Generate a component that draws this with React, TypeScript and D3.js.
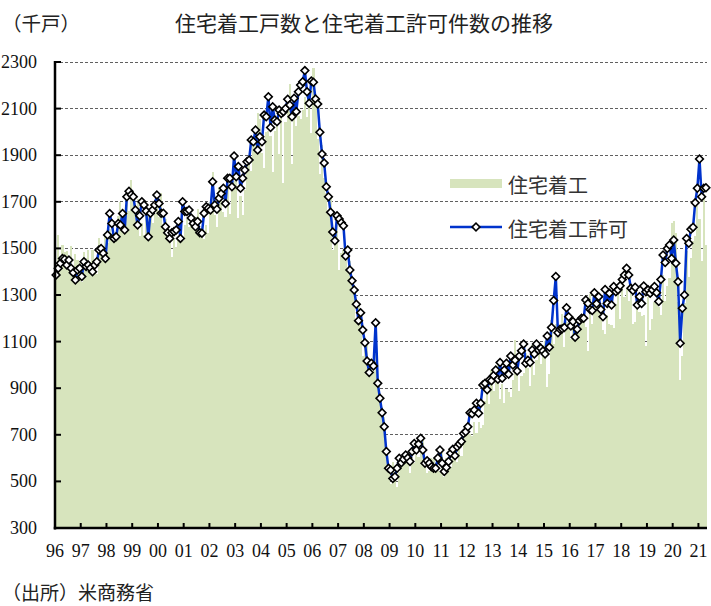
import React, { useEffect, useRef } from 'react';
import * as d3 from 'd3';

// 住宅着工戸数（千戸、年率）1996年1月〜2021年4月
const starts: number[] = [
  1370, 1556, 1432, 1513, 1484, 1488, 1461, 1512, 1422, 1474, 1452, 1436, // 1996
  1355, 1486, 1457, 1492, 1442, 1494, 1437, 1390, 1546, 1520, 1510, 1566, // 1997
  1525, 1584, 1567, 1540, 1536, 1641, 1698, 1614, 1582, 1715, 1660, 1792, // 1998
  1748, 1670, 1710, 1553, 1611, 1559, 1669, 1648, 1635, 1608, 1648, 1708, // 1999
  1636, 1737, 1604, 1626, 1575, 1559, 1463, 1541, 1507, 1549, 1551, 1532, // 2000
  1600, 1625, 1590, 1649, 1605, 1636, 1670, 1567, 1562, 1540, 1602, 1568, // 2001
  1698, 1829, 1642, 1592, 1764, 1717, 1655, 1633, 1804, 1648, 1753, 1788, // 2002
  1853, 1629, 1726, 1643, 1751, 1867, 1897, 1833, 1939, 1967, 2083, 2057, // 2003
  1911, 1846, 1998, 2003, 1981, 1828, 2002, 2024, 1905, 2072, 1782, 2042, // 2004
  2144, 2207, 1864, 2061, 2025, 2068, 2054, 2095, 2151, 2065, 2147, 1994, // 2005
  2273, 2119, 1969, 1821, 1942, 1802, 1737, 1650, 1720, 1491, 1570, 1649, // 2006
  1409, 1480, 1495, 1490, 1415, 1448, 1354, 1330, 1183, 1264, 1197, 1037, // 2007
  1084, 1103, 1005, 1013, 973, 1046, 923, 844, 820, 777, 652, 560,        // 2008
  490, 582, 505, 478, 540, 585, 594, 586, 585, 534, 588, 581,              // 2009
  614, 604, 636, 687, 583, 536, 546, 599, 594, 543, 545, 539,              // 2010
  630, 517, 600, 554, 561, 608, 623, 585, 650, 610, 711, 694,              // 2011
  723, 704, 695, 753, 708, 757, 728, 742, 847, 915, 833, 976,              // 2012
  888, 969, 1005, 852, 919, 835, 897, 883, 863, 936, 1105, 1003,           // 2013
  888, 952, 964, 1052, 985, 909, 1086, 956, 1023, 1074, 1004, 1086,        // 2014
  1104, 904, 963, 1191, 1090, 1174, 1146, 1124, 1219, 1077, 1183, 1158,    // 2015
  1113, 1200, 1103, 1160, 1136, 1188, 1202, 1162, 1061, 1305, 1174, 1283,  // 2016
  1230, 1283, 1194, 1150, 1133, 1216, 1175, 1170, 1160, 1263, 1303, 1199,  // 2017
  1336, 1290, 1327, 1276, 1329, 1177, 1184, 1280, 1229, 1209, 1214, 1081,  // 2018
  1291, 1149, 1199, 1270, 1264, 1250, 1216, 1386, 1274, 1338, 1371, 1608,  // 2019
  1617, 1567, 1269, 934, 1038, 1265, 1487, 1377, 1459, 1530, 1552, 1680,   // 2020
  1625, 1447, 1733, 1514,                                                  // 2021
];

// 住宅着工許可件数（千戸、年率）
const permits: number[] = [
  1386, 1415, 1436, 1457, 1453, 1429, 1450, 1415, 1396, 1364, 1407, 1415, // 1996
  1379, 1443, 1422, 1429, 1415, 1400, 1429, 1443, 1493, 1500, 1479, 1457, // 1997
  1558, 1650, 1607, 1543, 1550, 1607, 1600, 1650, 1579, 1722, 1745, 1730, // 1998
  1722, 1665, 1600, 1640, 1700, 1686, 1660, 1550, 1651, 1665, 1686, 1729, // 1999
  1693, 1651, 1651, 1593, 1567, 1543, 1567, 1572, 1579, 1615, 1543, 1700, // 2000
  1658, 1658, 1665, 1630, 1607, 1593, 1615, 1567, 1565, 1651, 1679, 1672, // 2001
  1665, 1786, 1686, 1668, 1715, 1736, 1758, 1693, 1801, 1801, 1765, 1897, // 2002
  1808, 1851, 1758, 1801, 1836, 1872, 1879, 1965, 1958, 2008, 1922, 1979, // 2003
  1958, 2072, 2065, 2151, 2019, 2108, 2051, 2044, 2094, 2079, 2087, 2100, // 2004
  2140, 2115, 2065, 2144, 2087, 2172, 2201, 2215, 2263, 2172, 2123, 2218, // 2005
  2213, 2141, 2120, 1998, 1905, 1867, 1765, 1722, 1655, 1570, 1533, 1640, // 2006
  1626, 1610, 1597, 1467, 1493, 1407, 1361, 1321, 1260, 1190, 1224, 1150, // 2007
  1095, 1017, 967, 1007, 995, 1181, 921, 857, 795, 735, 628, 556,         // 2008
  549, 512, 520, 556, 599, 580, 595, 613, 600, 585, 628, 663,              // 2009
  635, 660, 685, 635, 578, 589, 578, 563, 556, 556, 600, 635,              // 2010
  578, 542, 560, 585, 621, 638, 610, 649, 660, 671, 706, 713,              // 2011
  735, 795, 790, 806, 835, 792, 835, 914, 921, 893, 935, 932,              // 2012
  955, 978, 938, 1010, 943, 978, 1007, 960, 1038, 1000, 1020, 974,         // 2013
  1038, 1061, 1090, 1007, 1020, 1010, 1064, 1047, 1090, 1064, 1071, 1060,  // 2014
  1047, 1124, 1076, 1161, 1276, 1379, 1138, 1153, 1155, 1161, 1245, 1207,  // 2015
  1167, 1186, 1119, 1153, 1190, 1200, 1200, 1279, 1264, 1238, 1233, 1310,  // 2016
  1262, 1293, 1238, 1207, 1324, 1264, 1307, 1257, 1336, 1314, 1322, 1340,  // 2017
  1367, 1386, 1415, 1386, 1329, 1319, 1333, 1257, 1293, 1264, 1339, 1314,  // 2018
  1322, 1307, 1322, 1336, 1310, 1272, 1367, 1472, 1439, 1500, 1515, 1457,  // 2019
  1536, 1436, 1357, 1093, 1243, 1300, 1543, 1522, 1582, 1591, 1696, 1758,  // 2020
  1884, 1722, 1758, 1760,                                                  // 2021
];

const yearLabels = ['96', '97', '98', '99', '00', '01', '02', '03', '04', '05', '06', '07', '08',
  '09', '10', '11', '12', '13', '14', '15', '16', '17', '18', '19', '20', '21'];
const yTicks = [300, 500, 700, 900, 1100, 1300, 1500, 1700, 1900, 2100, 2300];
const startYear = 1996;

const months = starts.map((_, i) =>
  `${startYear + Math.floor(i / 12)}-${String((i % 12) + 1).padStart(2, '0')}`);

const W = 711;
const H = 606;
const plot = { left: 55, right: 707, top: 62, bottom: 528 };
const serif = '"Liberation Serif", "DejaVu Serif", serif';
const jp = '"Noto Sans CJK JP", sans-serif';

export default function App() {
  const ref = useRef<SVGSVGElement>(null);

  useEffect(() => {
    const svg = d3.select(ref.current);
    svg.selectAll('*').remove();

    const x = d3.scaleBand<string>().domain(months).range([plot.left, plot.right]).padding(0);
    const y = d3.scaleLinear().domain([300, 2300]).range([plot.bottom, plot.top]);
    const bw = x.bandwidth();

    // gridlines (behind bars)
    svg.append('g')
      .attr('shape-rendering', 'crispEdges')
      .selectAll('line')
      .data(yTicks.slice(1))
      .enter()
      .append('line')
      .attr('x1', plot.left)
      .attr('x2', plot.right)
      .attr('y1', d => y(d))
      .attr('y2', d => y(d))
      .attr('stroke', '#606060')
      .attr('stroke-width', 1)
      .attr('stroke-dasharray', '3,2');

    // housing starts bars
    svg.append('g')
      .attr('shape-rendering', 'crispEdges')
      .selectAll('rect')
      .data(starts)
      .enter()
      .append('rect')
      .attr('x', (d, i) => x(months[i]) as number)
      .attr('width', bw)
      .attr('y', d => y(d))
      .attr('height', d => y(300) - y(d))
      .attr('fill', '#d7e4bd');

    // permits line
    const line = d3.line<number>()
      .x((d, i) => (x(months[i]) as number) + bw / 2)
      .y(d => y(d));

    svg.append('path')
      .datum(permits)
      .attr('d', line)
      .attr('fill', 'none')
      .attr('stroke', '#0033cc')
      .attr('stroke-width', 2.5)
      .attr('stroke-linejoin', 'round');

    const diamond = d3.symbol().type(d3.symbolSquare).size(30);
    svg.append('g')
      .selectAll('path')
      .data(permits)
      .enter()
      .append('path')
      .attr('d', diamond())
      .attr('transform', (d, i) => `translate(${(x(months[i]) as number) + bw / 2},${y(d)}) rotate(45)`)
      .attr('fill', '#fff')
      .attr('stroke', '#000')
      .attr('stroke-width', 1.6);

    // axes
    const axes = svg.append('g').attr('stroke', '#000');
    axes.append('line')
      .attr('x1', plot.left).attr('x2', plot.left)
      .attr('y1', plot.top - 1).attr('y2', plot.bottom + 1.5)
      .attr('stroke-width', 2.5);
    axes.append('line')
      .attr('x1', plot.left - 1.25).attr('x2', plot.right)
      .attr('y1', plot.bottom).attr('y2', plot.bottom)
      .attr('stroke-width', 2.5);

    axes.selectAll('.ytick')
      .data(yTicks)
      .enter()
      .append('line')
      .attr('x1', plot.left)
      .attr('x2', plot.left + 6)
      .attr('y1', d => y(d))
      .attr('y2', d => y(d))
      .attr('stroke-width', 2);

    const yearTicks = yearLabels.map((_, k) => months[k * 12]);

    axes.selectAll('.xtick')
      .data(yearTicks.slice(1))
      .enter()
      .append('line')
      .attr('x1', d => x(d) as number)
      .attr('x2', d => x(d) as number)
      .attr('y1', plot.bottom)
      .attr('y2', plot.bottom - 5)
      .attr('stroke-width', 2);

    svg.append('g')
      .selectAll('text')
      .data(yTicks)
      .enter()
      .append('text')
      .attr('x', 37)
      .attr('y', d => y(d))
      .attr('dy', '0.33em')
      .attr('text-anchor', 'end')
      .attr('font-family', serif)
      .attr('font-size', '18px')
      .attr('fill', '#111')
      .text(d => d);

    svg.append('g')
      .selectAll('text')
      .data(yearLabels)
      .enter()
      .append('text')
      .attr('x', (d, k) => x(yearTicks[k]) as number)
      .attr('y', 557)
      .attr('text-anchor', 'middle')
      .attr('font-family', serif)
      .attr('font-size', '18px')
      .attr('fill', '#111')
      .text(d => d);

    // titles
    svg.append('text')
      .attr('x', 2).attr('y', 22)
      .attr('dominant-baseline', 'central')
      .attr('font-family', jp).attr('font-size', '19.5px').attr('fill', '#222')
      .text('（千戸）');

    svg.append('text')
      .attr('x', 364).attr('y', 22)
      .attr('dominant-baseline', 'central')
      .attr('text-anchor', 'middle')
      .attr('font-family', jp).attr('font-size', '21px').attr('fill', '#222')
      .text('住宅着工戸数と住宅着工許可件数の推移');

    svg.append('text')
      .attr('x', 2).attr('y', 591)
      .attr('dominant-baseline', 'central')
      .attr('font-family', jp).attr('font-size', '19px').attr('fill', '#222')
      .text('（出所）米商務省');

    // legend
    const legend = svg.append('g');
    legend.append('rect')
      .attr('x', 450).attr('y', 179).attr('width', 52).attr('height', 9)
      .attr('fill', '#d7e4bd');
    legend.append('text')
      .attr('x', 508).attr('y', 184)
      .attr('dominant-baseline', 'central')
      .attr('font-family', jp).attr('font-size', '20px').attr('fill', '#333')
      .text('住宅着工');

    legend.append('line')
      .attr('x1', 450).attr('x2', 502).attr('y1', 227).attr('y2', 227)
      .attr('stroke', '#0033cc').attr('stroke-width', 2.5);
    legend.append('path')
      .attr('d', diamond())
      .attr('transform', 'translate(476,227) rotate(45)')
      .attr('fill', '#fff').attr('stroke', '#000').attr('stroke-width', 1.6);
    legend.append('text')
      .attr('x', 508).attr('y', 228)
      .attr('dominant-baseline', 'central')
      .attr('font-family', jp).attr('font-size', '20px').attr('fill', '#333')
      .text('住宅着工許可');
  }, []);

  return (
    <svg
      ref={ref}
      width={W}
      height={H}
      style={{ position: 'absolute', left: 0, top: 0, background: '#fff' }}
    />
  );
}
